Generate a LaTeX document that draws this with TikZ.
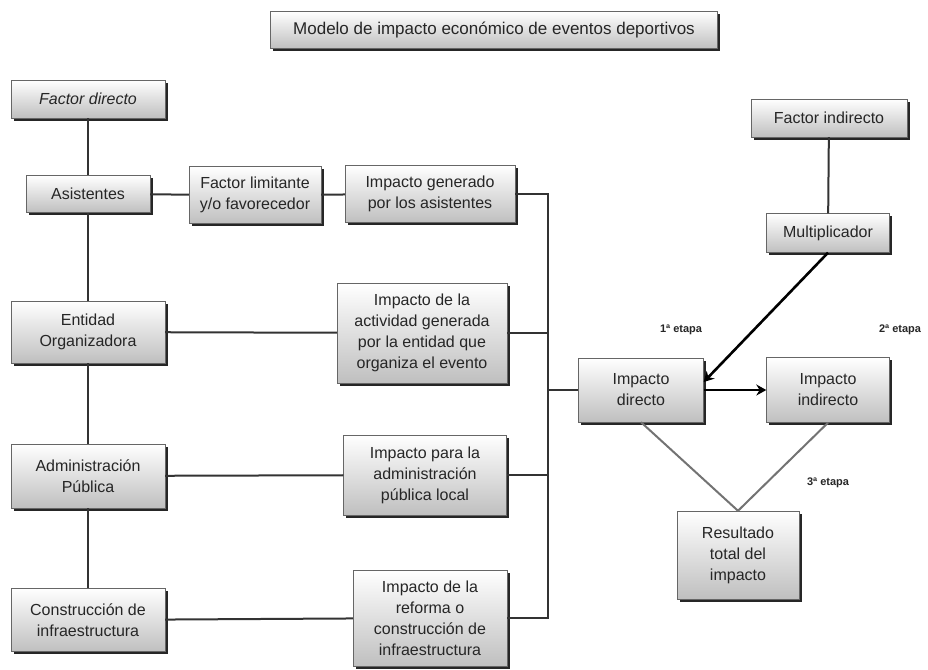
\documentclass[tikz,border=0pt]{standalone}
\usepackage{fontspec}
\setmainfont{Liberation Sans}
\usepackage{tikz}
\usetikzlibrary{arrows.meta, shadows}

\tikzset{
    box/.style={draw=black!60, top color=white, bottom color=black!25, align=center, inner sep=1pt,
        drop shadow={shadow xshift=2.5pt, shadow yshift=-2.5pt, fill=black!85, opacity=1},
        text=black!85, font=\fontsize{16}{21}\selectfont},
    etapa/.style={font=\fontsize{11}{13}\selectfont\bfseries, text=black!85},
    link/.style={line width=2pt, black!80},
    total/.style={line width=2pt, black!55}
}

\begin{document}
\begin{tikzpicture}[x=1pt, y=-1pt]
        \useasboundingbox (0,0) rectangle (928,669);

        \node[box, minimum width=447pt, minimum height=37pt, font=\fontsize{17}{21}\selectfont] (0) at (494,30) {Modelo de impacto económico de eventos deportivos};

        \node[box, minimum width=154pt, minimum height=38pt] (1) at (88,99) {\itshape Factor directo};
        \node[box, minimum width=124pt, minimum height=37pt] (2) at (88,194) {Asistentes};
        \node[box, minimum width=132pt, minimum height=57pt] (3) at (255,195) {Factor limitante\\y/o favorecedor};
        \node[box, minimum width=170pt, minimum height=57pt] (4) at (430,194) {Impacto generado\\por los asistentes};
        \node[box, minimum width=154pt, minimum height=62pt] (5) at (88,332) {Entidad\\Organizadora};
        \node[box, minimum width=170pt, minimum height=100pt] (6) at (422,333) {Impacto de la\\actividad generada\\por la entidad que\\organiza el evento};
        \node[box, minimum width=154pt, minimum height=64pt] (7) at (88,476) {Administración\\Pública};
        \node[box, minimum width=163pt, minimum height=80pt] (8) at (425,475) {Impacto para la\\administración\\pública local};
        \node[box, minimum width=154pt, minimum height=63pt] (9) at (88,620) {Construcción de\\infraestructura};
        \node[box, minimum width=154pt, minimum height=96pt] (10) at (430,618) {Impacto de la\\reforma o\\construcción de\\infraestructura};

        \node[box, minimum width=125pt, minimum height=64pt] (11) at (641,390) {Impacto\\directo};
        \node[box, minimum width=123pt, minimum height=65pt] (12) at (828,390) {Impacto\\indirecto};
        \node[box, minimum width=156pt, minimum height=38pt] (13) at (829,118) {Factor indirecto};
        \node[box, minimum width=123pt, minimum height=39pt] (14) at (828,233) {Multiplicador};
        \node[box, minimum width=122pt, minimum height=88pt] (15) at (738,555) {Resultado\\total del\\impacto};

        \node[etapa] (16) at (681,330) {1ª etapa};
        \node[etapa] (17) at (900,330) {2ª etapa};
        \node[etapa] (18) at (828,483) {3ª etapa};

        \coordinate (bus) at (548,390);

        \draw[link] (1) -- (2);
        \draw[link] (2) -- (5);
        \draw[link] (5) -- (7);
        \draw[link] (7) -- (9);
        \draw[link] (2) -- (3);
        \draw[link] (3) -- (4);
        \draw[link] (5) -- (6);
        \draw[link] (7) -- (8);
        \draw[link] (9) -- (10);

        \draw[link] (4.east) -| (bus) |- (10.east);
        \draw[link] (6.east) -- (6.east -| bus);
        \draw[link] (8.east) -- (8.east -| bus);
        \draw[link] (bus) -- (11.west);

        \draw[link] (13) -- (14);
        \draw[link, line width=2.6pt, black, -{Stealth[length=10pt, width=11pt]}] (14.south) -- ([yshift=8pt]11.east);
        \draw[link, line width=2.8pt, black, -{Stealth[length=10pt, width=11pt]}] (11.east) -- (12.west);

        \draw[total] (11.south) -- (15.north);
        \draw[total] (12.south) -- (15.north);
    \end{tikzpicture}
\end{document}
